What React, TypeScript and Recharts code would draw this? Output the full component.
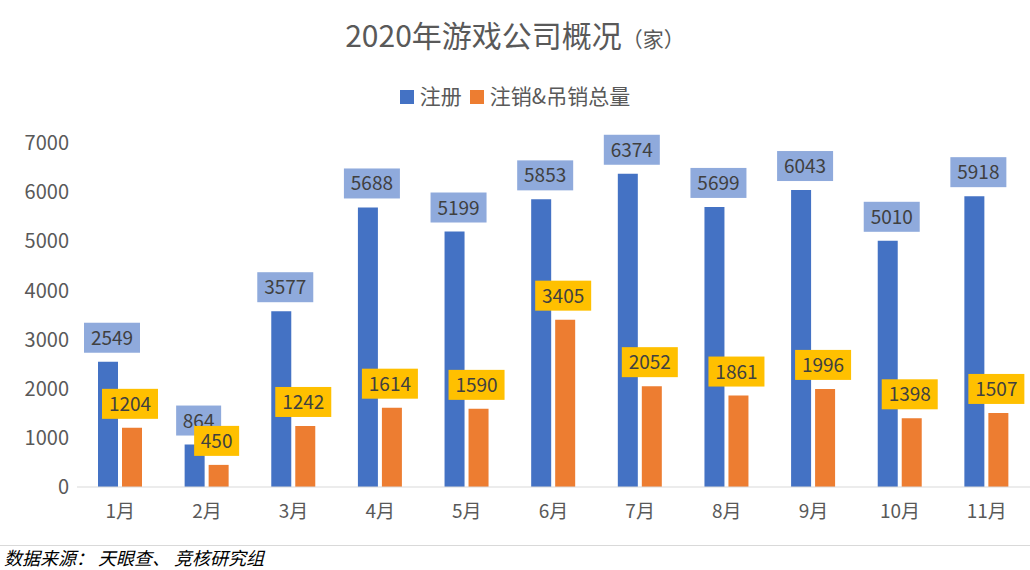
import { BarChart, Bar, XAxis, YAxis, LabelList } from 'recharts';

const months = ['1月', '2月', '3月', '4月', '5月', '6月', '7月', '8月', '9月', '10月', '11月'];
const registered = [2549, 864, 3577, 5688, 5199, 5853, 6374, 5699, 6043, 5010, 5918];
const cancelled = [1204, 450, 1242, 1614, 1590, 3405, 2052, 1861, 1996, 1398, 1507];
const yTicks = [0, 1000, 2000, 3000, 4000, 5000, 6000, 7000];

const data = months.map((m, i) => ({ month: m, reg: registered[i], cancel: cancelled[i] }));

const FONT = '"Noto Sans CJK SC", "Noto Sans", sans-serif';

const makeLabel = (fill: string, dx: number) => (props: any) => {
    const { x, y, width, value } = props;
    const cx = x + width / 2 + dx;
    const cy = y - 24;
    const w = String(value).length * 11 + 12;
    return (
        <g>
            <rect x={cx - w / 2} y={cy - 15} width={w} height={30} fill={fill} />
            <text x={cx} y={cy + 7} textAnchor="middle" fontSize={19} fill="#404040" fontFamily={FONT}>
                {value}
            </text>
        </g>
    );
};

export default function App() {
    return (
        <div style={{ position: 'absolute', left: 0, top: 0, width: 1030, height: 570, background: '#fff', fontFamily: FONT }}>
            <div style={{ position: 'absolute', top: 12, width: '100%', textAlign: 'center', fontSize: 30, color: '#595959' }}>
                2020年游戏公司概况<span style={{ fontSize: 21 }}>（家）</span>
            </div>
            <div style={{ position: 'absolute', top: 80, width: '100%', textAlign: 'center', fontSize: 21, color: '#595959' }}>
                <span style={{ display: 'inline-block', width: 14, height: 14, background: '#4472c4', marginRight: 6 }} />
                注册
                <span style={{ display: 'inline-block', width: 14, height: 14, background: '#ed7d31', margin: '0 6px 0 8px' }} />
                注销&amp;吊销总量
            </div>
            <BarChart width={1030} height={570} data={data} margin={{ top: 143, right: 0, bottom: 43, left: 0 }} barGap={4} barSize={20}>
                <XAxis dataKey="month" height={40} tickLine={false} axisLine={{ stroke: '#d9d9d9' }}
                    tick={{ fontSize: 19, fill: '#595959', fontFamily: FONT }} tickMargin={12} />
                <YAxis domain={[0, 7000]} ticks={yTicks} width={77} axisLine={false} tickLine={false}
                    tick={{ fontSize: 20, fill: '#595959', fontFamily: FONT }} />
                <Bar dataKey="reg" fill="#4472c4" isAnimationActive={false}>
                    <LabelList dataKey="reg" content={makeLabel('#8faadc', 4)} />
                </Bar>
                <Bar dataKey="cancel" fill="#ed7d31" isAnimationActive={false}>
                    <LabelList dataKey="cancel" content={makeLabel('#ffc000', -2)} />
                </Bar>
            </BarChart>
            <div style={{ position: 'absolute', top: 545, left: 0, width: 1030, borderTop: '1px solid #d9d9d9' }} />
            <div style={{ position: 'absolute', top: 544, left: 4, fontSize: 18, fontStyle: 'italic', color: '#000' }}>
                数据来源： 天眼查、 竞核研究组
            </div>
        </div>
    );
}
